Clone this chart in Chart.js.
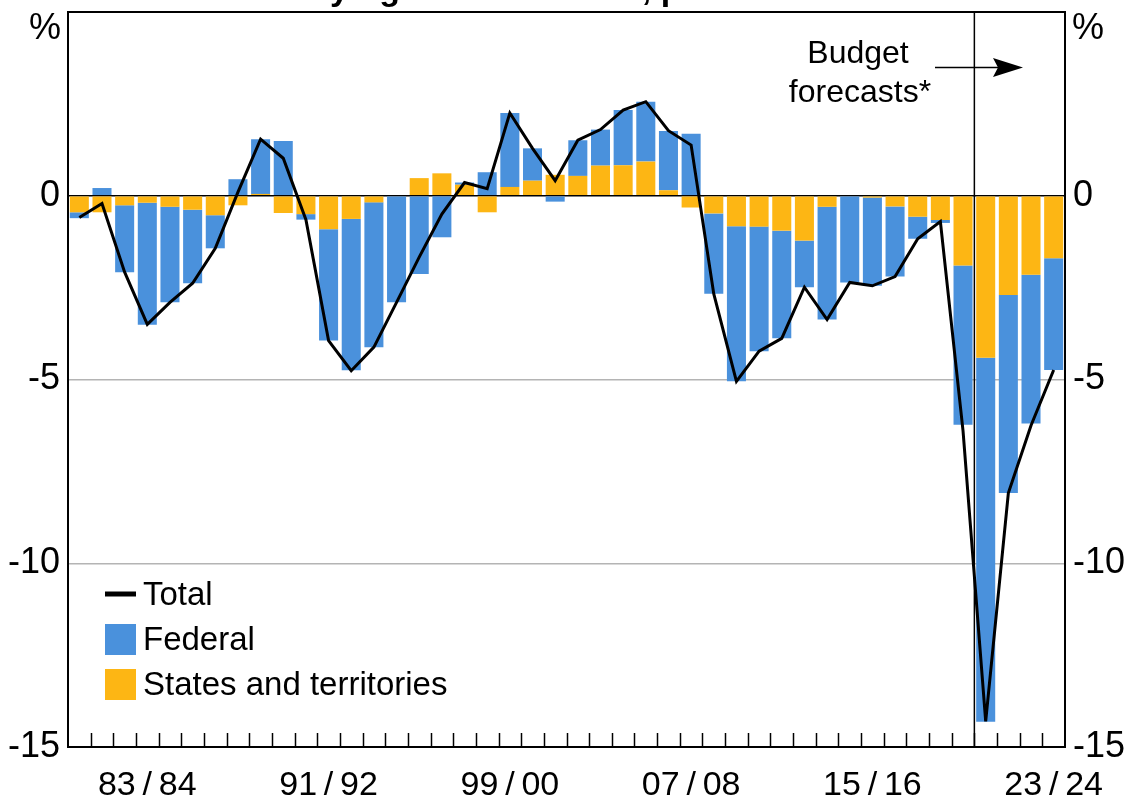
<!DOCTYPE html>
<html>
<head>
<meta charset="utf-8">
<script src="https://cdn.jsdelivr.net/npm/chart.js@4.4.1/dist/chart.umd.min.js"></script>
<style>
  html, body { margin: 0; padding: 0; background: #fff; }
  #wrap { width: 1126px; height: 801px; }
</style>
</head>
<body>
<div id="wrap"><canvas id="chart" width="1126" height="801"></canvas></div>
<script>
// financial years 1980/81 .. 2023/24
const years = [
  '80/81','81/82','82/83','83/84','84/85','85/86','86/87','87/88','88/89','89/90',
  '90/91','91/92','92/93','93/94','94/95','95/96','96/97','97/98','98/99','99/00',
  '00/01','01/02','02/03','03/04','04/05','05/06','06/07','07/08','08/09','09/10',
  '10/11','11/12','12/13','13/14','14/15','15/16','16/17','17/18','18/19','19/20',
  '20/21','21/22','22/23','23/24'
];

const states = [
  -0.45, -0.45, -0.26, -0.19, -0.30, -0.38, -0.53, -0.26, 0.05, -0.47,
  -0.50, -0.91, -0.63, -0.18, -0.02, 0.48, 0.61, 0.30, -0.45, 0.24,
  0.41, 0.57, 0.54, 0.82, 0.83, 0.93, 0.15, -0.32, -0.48, -0.83,
  -0.84, -0.95, -1.22, -0.30, -0.02, -0.05, -0.29, -0.57, -0.66, -1.90,
  -4.41, -2.70, -2.15, -1.70
];

const federal = [
  -0.16, 0.21, -1.82, -3.32, -2.60, -2.00, -0.90, 0.45, 1.49, 1.49,
  -0.15, -3.03, -4.12, -3.94, -2.88, -2.13, -1.13, 0.06, 0.64, 2.01,
  0.88, -0.16, 0.97, 0.98, 1.50, 1.63, 1.61, 1.69, -2.19, -4.22,
  -3.39, -2.93, -1.27, -3.07, -2.34, -2.40, -1.91, -0.60, -0.08, -4.33,
  -9.90, -5.39, -4.05, -3.04
];

const total = [
  -0.59, -0.21, -2.08, -3.50, -2.90, -2.38, -1.43, 0.10, 1.54, 1.02,
  -0.65, -3.94, -4.76, -4.12, -2.90, -1.67, -0.50, 0.36, 0.19, 2.25,
  1.29, 0.41, 1.51, 1.80, 2.33, 2.56, 1.77, 1.38, -2.67, -5.05,
  -4.23, -3.88, -2.49, -3.37, -2.36, -2.45, -2.20, -1.17, -0.70, -6.40,
  -14.30, -8.09, -6.25, -4.74
];

// labelled y ticks; axis runs to +5 where the "%" unit sits
const yTicks = [0, -5, -10, -15];
const yMin = -15, yMax = 5;
const firstForecast = '20/21';
const labelEvery = 8, labelStart = 3;

const BLUE = '#4a91dc';
const YELLOW = '#fdb614';
const FONT = '"Liberation Sans", Arial, sans-serif';

const overlay = {
  id: 'overlay',
  beforeDatasetsDraw(chart) {
    const { ctx, chartArea: a, scales } = chart;
    const x = scales.x;
    const i = years.indexOf(firstForecast);
    const fx = (x.getPixelForValue(i - 1) + x.getPixelForValue(i)) / 2;
    ctx.save();
    ctx.strokeStyle = '#000';
    ctx.lineWidth = 1.5;
    ctx.beginPath();
    ctx.moveTo(fx, a.top);
    ctx.lineTo(fx, a.bottom);
    ctx.stroke();
    ctx.restore();
  },
  afterDraw(chart) {
    const { ctx, chartArea: a, scales } = chart;
    const x = scales.x;
    ctx.save();

    // frame top
    ctx.strokeStyle = '#000';
    ctx.lineWidth = 2;
    ctx.beginPath();
    ctx.moveTo(a.left - 1, a.top);
    ctx.lineTo(a.right + 1, a.top);
    ctx.stroke();

    // tick marks on the category boundaries, pointing up
    const step = x.getPixelForValue(1) - x.getPixelForValue(0);
    ctx.lineWidth = 1.5;
    ctx.beginPath();
    for (let k = 1; k < years.length; k++) {
      const tx = Math.round(x.getPixelForValue(k) - step / 2) + 0.5;
      ctx.moveTo(tx, a.bottom);
      ctx.lineTo(tx, a.bottom - 14);
    }
    ctx.stroke();

    // unit labels
    ctx.fillStyle = '#000';
    ctx.font = '36px ' + FONT;
    ctx.textBaseline = 'middle';
    ctx.textAlign = 'right';
    ctx.fillText('%', a.left - 7, a.top + 17);
    ctx.textAlign = 'left';
    ctx.fillText('%', a.right + 7, a.top + 17);

    // title (cut off by the top edge)
    ctx.font = 'bold 34px ' + FONT;
    ctx.textAlign = 'center';
    ctx.textBaseline = 'alphabetic';
    ctx.fillText('Underlying cash balances, per cent of GDP', 570, 0);

    // forecast annotation
    ctx.font = '32px ' + FONT;
    ctx.fillText('Budget', 858, 63);
    ctx.fillText('forecasts*', 860, 102);
    ctx.lineWidth = 1.5;
    ctx.beginPath();
    ctx.moveTo(935, 67.5);
    ctx.lineTo(1000, 67.5);
    ctx.stroke();
    ctx.beginPath();
    ctx.moveTo(1023, 67.5);
    ctx.lineTo(993, 58);
    ctx.lineTo(998, 67.5);
    ctx.lineTo(993, 77);
    ctx.closePath();
    ctx.fill();

    // legend
    const lx = 105, tx = 143;
    ctx.font = '33px ' + FONT;
    ctx.textAlign = 'left';
    ctx.textBaseline = 'middle';
    ctx.lineWidth = 5;
    ctx.beginPath();
    ctx.moveTo(lx, 594);
    ctx.lineTo(lx + 31, 594);
    ctx.stroke();
    ctx.fillText(chart.data.datasets[0].label, tx, 596);
    ctx.fillStyle = BLUE;
    ctx.fillRect(lx, 624, 31, 31);
    ctx.fillStyle = '#000';
    ctx.fillText(chart.data.datasets[2].label, tx, 641);
    ctx.fillStyle = YELLOW;
    ctx.fillRect(lx, 669, 31, 31);
    ctx.fillStyle = '#000';
    ctx.fillText(chart.data.datasets[1].label, tx, 686);

    ctx.restore();
  }
};

function gridColor(c) {
  const v = c.tick && c.tick.value;
  if (v === 0) return '#000';
  if (v === -5 || v === -10) return '#b4b4b4';
  return 'rgba(0,0,0,0)';
}

new Chart(document.getElementById('chart'), {
  type: 'bar',
  data: {
    labels: years,
    datasets: [
      {
        type: 'line',
        label: 'Total',
        data: total,
        borderColor: '#000',
        borderWidth: 3,
        pointRadius: 0,
        tension: 0,
        borderJoinStyle: 'miter',
        stack: 'line',
        order: 0
      },
      {
        label: 'States and territories',
        data: states,
        backgroundColor: YELLOW,
        stack: 'bars',
        order: 1,
        barPercentage: 0.84,
        categoryPercentage: 1
      },
      {
        label: 'Federal',
        data: federal,
        backgroundColor: BLUE,
        stack: 'bars',
        order: 2,
        barPercentage: 0.84,
        categoryPercentage: 1
      }
    ]
  },
  options: {
    responsive: false,
    animation: false,
    layout: { padding: { top: 12, left: 0, right: 0, bottom: 0 } },
    plugins: {
      legend: { display: false },
      tooltip: { enabled: false },
      title: { display: false }
    },
    scales: {
      x: {
        stacked: true,
        offset: true,
        grid: { display: false, drawTicks: false },
        border: { display: true, color: '#000', width: 2 },
        ticks: {
          autoSkip: false,
          maxRotation: 0,
          padding: 18,
          color: '#000',
          font: { family: FONT, size: 34 },
          callback: function(val, idx) {
            if ((idx - labelStart) % labelEvery !== 0) return '';
            return years[idx].replace('/', '\u2009/\u2009');
          }
        },
        afterFit: s => { s.height = 54; }
      },
      y: {
        stacked: true,
        position: 'left',
        min: yMin,
        max: yMax,
        afterBuildTicks: s => { s.ticks = yTicks.map(v => ({ value: v })); },
        grid: { color: gridColor, lineWidth: 1.5, drawTicks: false },
        border: { display: true, color: '#000', width: 2 },
        ticks: {
          padding: 8,
          color: '#000',
          font: { family: FONT, size: 36, lineHeight: 0.2 }
        },
        afterFit: s => { s.width = 68; }
      },
      y2: {
        position: 'right',
        min: yMin,
        max: yMax,
        afterBuildTicks: s => { s.ticks = yTicks.map(v => ({ value: v })); },
        grid: { drawOnChartArea: false, drawTicks: false },
        border: { display: true, color: '#000', width: 2 },
        ticks: {
          padding: 8,
          color: '#000',
          font: { family: FONT, size: 36, lineHeight: 0.2 }
        },
        afterFit: s => { s.width = 61; }
      }
    }
  },
  plugins: [overlay]
});
</script>
</body>
</html>
